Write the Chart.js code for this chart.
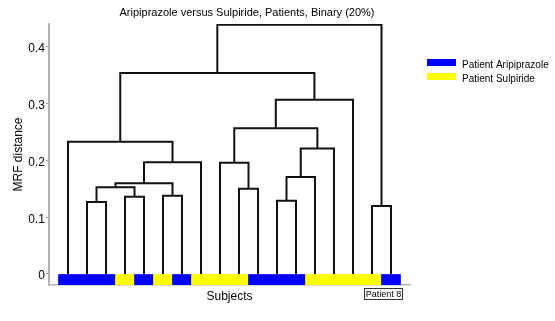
<!DOCTYPE html>
<html>
<head>
<meta charset="utf-8">
<script src="https://cdn.jsdelivr.net/npm/chart.js@4"></script>
<style>
  html, body { margin: 0; padding: 0; background: #fff; }
  #wrap { width: 555px; height: 321px; position: relative; }
</style>
</head>
<body>
<div id="wrap"><canvas id="dendro"></canvas></div>
<script>
// leaf groups in display order (1..18)
const leafGroups = ["A","A","A","S","A","S","A","S","S","S","A","A","A","S","S","S","S","A"];

// linkage: node ids 1..18 are leaves, 19+ are merged clusters
const mergeLeft   = [2, 4, 6, 19, 22, 23, 1, 10, 9, 12, 28, 29, 27, 31, 17, 25, 34];
const mergeRight  = [3, 5, 7, 20, 21, 8, 24, 11, 26, 13, 14, 15, 30, 16, 18, 32, 33];
const mergeHeight = [0.127, 0.136, 0.138, 0.153, 0.160, 0.197, 0.233, 0.150, 0.196,
                     0.129, 0.171, 0.221, 0.257, 0.307, 0.120, 0.354, 0.439];

const yTicks = [0, 0.1, 0.2, 0.3, 0.4];
const groupNames = { A: "Patient Aripiprazole", S: "Patient Sulpiride" };
const groupColors = { A: "#0000ff", S: "#ffff00" };

const yMin = -0.0194, yMax = 0.4405;

// node positions
const nodeX = {}, nodeH = {};
leafGroups.forEach((g, i) => { nodeX[i + 1] = i + 1; nodeH[i + 1] = 0; });

const linkSets = mergeLeft.map((l, i) => {
  const r = mergeRight[i], h = mergeHeight[i];
  const id = leafGroups.length + 1 + i;
  nodeX[id] = (nodeX[l] + nodeX[r]) / 2;
  nodeH[id] = h;
  return {
    type: "line",
    data: [
      { x: nodeX[l], y: nodeH[l] },
      { x: nodeX[l], y: h },
      { x: nodeX[r], y: h },
      { x: nodeX[r], y: nodeH[r] }
    ],
    borderColor: "#111",
    borderWidth: 2,
    pointRadius: 0,
    tension: 0,
    fill: false
  };
});

const colorBar = {
  type: "bar",
  data: leafGroups.map((g, i) => ({ x: i + 1, y: [yMin, 0] })),
  backgroundColor: leafGroups.map(g => groupColors[g]),
  borderWidth: 0,
  barPercentage: 1,
  categoryPercentage: 1
};

const extras = {
  id: "extras",
  afterDraw(chart) {
    const ctx = chart.ctx;
    ctx.save();
    ctx.fillStyle = "#000";
    ctx.textBaseline = "middle";
    ctx.font = "11px 'Liberation Sans', Arial, sans-serif";
    ctx.textAlign = "center";
    ctx.fillText("Aripiprazole versus Sulpiride, Patients, Binary (20%)", 247, 12.5);

    // legend
    ctx.textAlign = "left";
    ctx.font = "10px 'Liberation Sans', Arial, sans-serif";
    ["A", "S"].forEach((g, i) => {
      const y = 59 + i * 14;
      ctx.fillStyle = groupColors[g];
      ctx.fillRect(427, y, 29, 7);
      ctx.fillStyle = "#000";
      ctx.fillText(groupNames[g], 462, y + 6);
    });

    // leaf annotation
    ctx.strokeStyle = "#333";
    ctx.lineWidth = 1;
    ctx.strokeRect(364.5, 288.5, 38, 11);
    ctx.font = "9px 'Liberation Sans', Arial, sans-serif";
    ctx.textAlign = "center";
    ctx.fillText("Patient 8", 383.5, 294.5);
    ctx.restore();
  }
};

new Chart(document.getElementById("dendro"), {
  type: "scatter",
  data: { datasets: [colorBar, ...linkSets] },
  options: {
    responsive: true,
    maintainAspectRatio: false,
    animation: false,
    layout: { padding: { top: 24, right: 145, left: 0, bottom: 0 } },
    plugins: { legend: { display: false }, tooltip: { enabled: false } },
    scales: {
      x: {
        type: "linear",
        offset: false,
        min: 0,
        max: 19,
        ticks: { display: false, stepSize: 1 },
        grid: { display: false, offset: false },
        border: { display: true, color: "#b4b4b4", width: 1.5 },
        title: {
          display: true,
          text: "Subjects",
          color: "#000",
          font: { family: "'Liberation Sans', Arial, sans-serif", size: 12 },
          padding: { top: 0, bottom: 17 }
        },
        afterFit(s) { s.height = 36; }
      },
      y: {
        min: yMin,
        max: yMax,
        afterBuildTicks(s) { s.ticks = yTicks.map(v => ({ value: v })); },
        ticks: {
          color: "#000",
          padding: 1,
          labelOffset: 2,
          font: { family: "'Liberation Sans', Arial, sans-serif", size: 12 },
          callback: v => String(v)
        },
        grid: { drawOnChartArea: false, drawTicks: true, tickLength: 3, color: "#999" },
        border: { display: true, color: "#b4b4b4", width: 2 },
        title: {
          display: true,
          text: "MRF distance",
          color: "#000",
          font: { family: "'Liberation Sans', Arial, sans-serif", size: 12 },
          padding: { top: 11, bottom: 0 }
        },
        afterFit(s) { s.width = 49; }
      }
    }
  },
  plugins: [extras]
});
</script>
</body>
</html>
